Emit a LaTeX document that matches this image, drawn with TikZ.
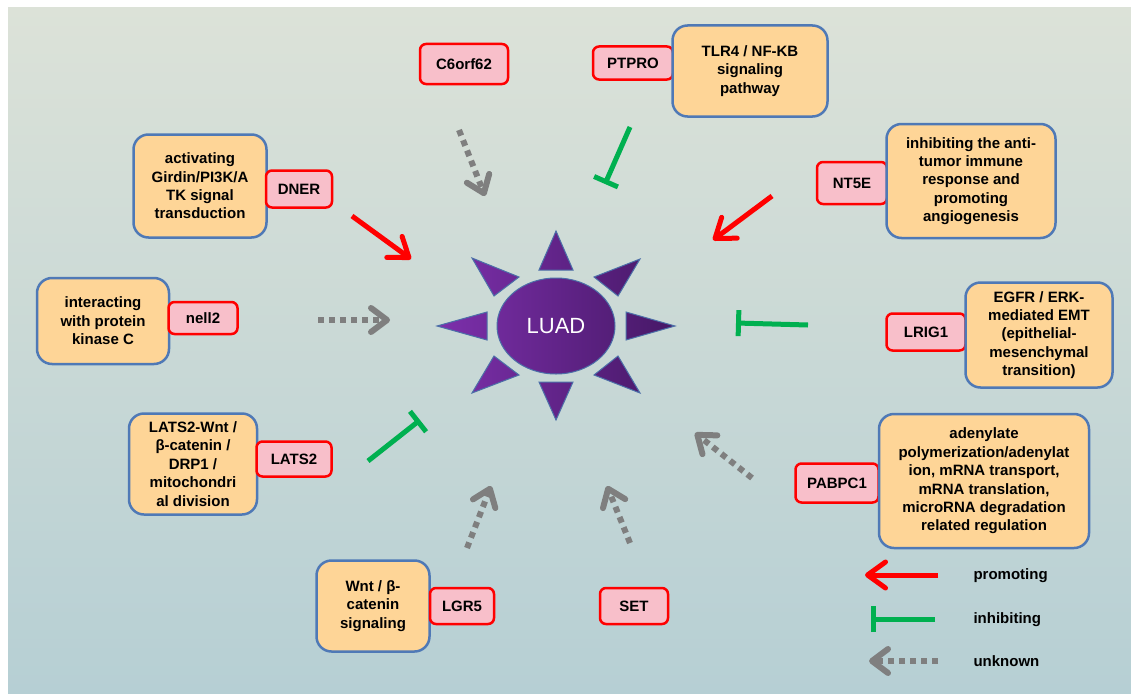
\documentclass[tikz,border=0pt]{standalone}
\usepackage{fontspec}
\setmainfont{Liberation Sans}
\usetikzlibrary{arrows.meta}
\definecolor{bgTop}{HTML}{DCE2D8}
\definecolor{bgBot}{HTML}{B6CFD4}
\definecolor{geneRed}{HTML}{FF0000}
\definecolor{genePink}{HTML}{F8BFCA}
\definecolor{roleBlue}{HTML}{4F79B6}
\definecolor{roleOrange}{HTML}{FED597}
\definecolor{starLeft}{HTML}{7D30AC}
\definecolor{starRight}{HTML}{461866}
\definecolor{starEdge}{HTML}{4C6FA8}
\definecolor{pGreen}{HTML}{00B050}
\definecolor{pGray}{HTML}{7F7F7F}
\tikzset{
    gene/.style={rectangle, rounded corners=6pt, draw=geneRed, line width=2.5pt, fill=genePink, inner sep=2pt, font=\bfseries\fontsize{15}{17}\selectfont},
    role/.style={rectangle, rounded corners=15pt, draw=roleBlue, line width=2.5pt, fill=roleOrange, align=center, inner sep=2pt, font=\bfseries\fontsize{15}{18.4}\selectfont},
    promote/.style={draw=geneRed, line width=5pt, -{Straight Barb[length=18pt,width=26pt,round]}},
    inhibit/.style={draw=pGreen, line width=5pt, -{Bar[width=26pt]}},
    unknown/.style={draw=pGray, line width=6pt, dash pattern=on 6pt off 5pt, -{Straight Barb[length=16pt,width=24pt,round]}},
    legtext/.style={anchor=west, font=\bfseries\fontsize{15}{17}\selectfont}
}

\begin{document}
\begin{tikzpicture}[x=1pt,y=-1pt]
\useasboundingbox (0,0) rectangle (1131,693);
\shade[top color=bgTop, bottom color=bgBot] (8,8) rectangle (1131,693);

% LUAD star
\shadedraw[left color=starLeft, right color=starRight, draw=starEdge, line width=1pt]
    (556,326) ellipse [x radius=59, y radius=48]
    (556,231) -- (573,270) -- (539,270) -- cycle
    (556,420) -- (573,382) -- (539,382) -- cycle
    (437,326) -- (487,312) -- (487,340) -- cycle
    (675,326) -- (626,312) -- (626,340) -- cycle
    (472,258) -- (519,277) -- (494,296) -- cycle
    (640,259) -- (594,277) -- (618,296) -- cycle
    (472,393) -- (494,356) -- (519,375) -- cycle
    (640,393) -- (618,356) -- (594,375) -- cycle;
\node[text=white, font=\fontsize{22}{25}\selectfont] (luad) at (556,326) {LUAD};

% genes and their roles
\node[gene, minimum width=88pt, minimum height=40pt] (c6orf) at (464,64) {C6orf62};
\node[gene, minimum width=80pt, minimum height=33pt] (ptpro) at (633,63) {PTPRO};
\node[role, minimum width=155pt, minimum height=91pt] (tlr) at (750,71) {TLR4 / NF-KB\\signaling\\pathway};
\node[gene, minimum width=70pt, minimum height=42pt] (nt5e) at (852,183) {NT5E};
\node[role, minimum width=169pt, minimum height=114pt] (nt5eR) at (971,181) {inhibiting the anti-\\tumor immune\\response and\\promoting\\angiogenesis};
\node[role, minimum width=133pt, minimum height=103pt] (dnerR) at (200,186) {activating\\Girdin/PI3K/A\\TK signal\\transduction};
\node[gene, minimum width=66pt, minimum height=37pt] (dner) at (299,189) {DNER};
\node[role, minimum width=132pt, minimum height=86pt] (nellR) at (103,321) {interacting\\with protein\\kinase C};
\node[gene, minimum width=69pt, minimum height=32pt] (nell) at (203,318) {nell2};
\node[gene, minimum width=79pt, minimum height=37pt] (lrig) at (926,332) {LRIG1};
\node[role, minimum width=147pt, minimum height=105pt] (lrigR) at (1039,335) {EGFR / ERK-\\mediated EMT\\(epithelial-\\mesenchymal\\transition)};
\node[role, minimum width=128pt, minimum height=101pt] (latsR) at (193,464) {LATS2-Wnt /\\β-catenin /\\DRP1 /\\mitochondri\\al division};
\node[gene, minimum width=75pt, minimum height=35pt] (lats) at (294,459) {LATS2};
\node[gene, minimum width=83pt, minimum height=39pt] (pabp) at (837,483) {PABPC1};
\node[role, minimum width=210pt, minimum height=134pt] (pabpR) at (984,481) {adenylate\\polymerization/adenylat\\ion, mRNA transport,\\mRNA translation,\\microRNA degradation\\related regulation};
\node[role, minimum width=113pt, minimum height=91pt] (lgrR) at (373,606) {Wnt / β-\\catenin\\signaling};
\node[gene, minimum width=64pt, minimum height=36pt] (lgr) at (462,606) {LGR5};
\node[gene, minimum width=68pt, minimum height=36pt] (set) at (634,606) {SET};

% arrow ends
\coordinate (c6a) at (459,130);  \coordinate (c6b) at (485,196);
\coordinate (pta) at (630,127);  \coordinate (ptb) at (605,184);
\coordinate (nta) at (772,196);  \coordinate (ntb) at (713,240);
\coordinate (dna) at (352,216);  \coordinate (dnb) at (411,259);
\coordinate (nea) at (318,320);  \coordinate (neb) at (390,320);
\coordinate (lra) at (808,325);  \coordinate (lrb) at (736,323);
\coordinate (laa) at (368,461);  \coordinate (lab) at (420,420);
\coordinate (paa) at (752,478);  \coordinate (pab) at (695,433);
\coordinate (lga) at (467,548);  \coordinate (lgb) at (491,486);
\coordinate (sea) at (630,543);  \coordinate (seb) at (607,486);

\draw[unknown] (c6a) -- (c6b);
\draw[inhibit] (pta) -- (ptb);
\draw[promote] (nta) -- (ntb);
\draw[promote] (dna) -- (dnb);
\draw[unknown] (nea) -- (neb);
\draw[inhibit] (lra) -- (lrb);
\draw[inhibit] (laa) -- (lab);
\draw[unknown] (paa) -- (pab);
\draw[unknown] (lga) -- (lgb);
\draw[unknown] (sea) -- (seb);

% legend
\coordinate (lgPa) at (938,575); \coordinate (lgPb) at (865,575);
\coordinate (lgIa) at (935,619); \coordinate (lgIb) at (871,619);
\coordinate (lgUa) at (938,661); \coordinate (lgUb) at (869,661);
\draw[promote] (lgPa) -- (lgPb);
\draw[inhibit] (lgIa) -- (lgIb);
\draw[unknown] (lgUa) -- (lgUb);
\node[legtext] (lgP) at (970,576) {promoting};
\node[legtext] (lgI) at (970,620) {inhibiting};
\node[legtext] (lgU) at (970,661) {unknown};
\end{tikzpicture}
\end{document}
